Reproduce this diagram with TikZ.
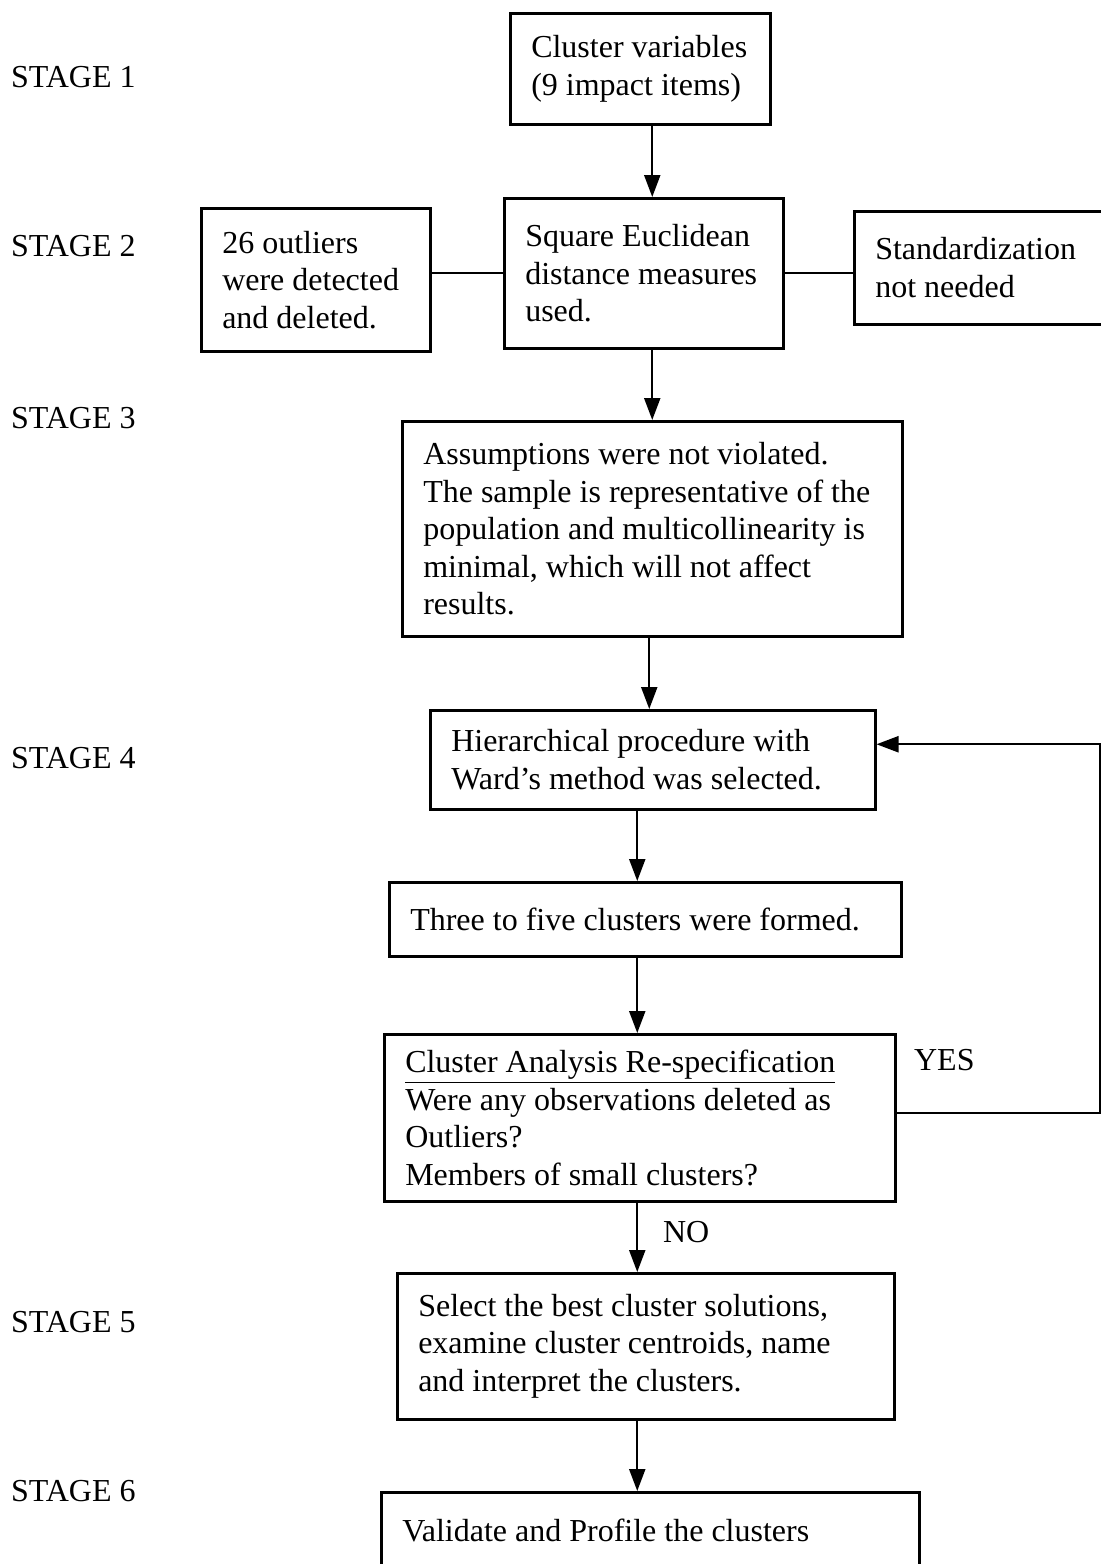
\documentclass[tikz,border=0pt]{standalone}
\usepackage{fontspec}
\setmainfont{Liberation Serif}
\usetikzlibrary{arrows.meta}
\hyphenpenalty=10000

\begin{document}
\begin{tikzpicture}[x=0.5pt,y=-0.5pt,>={Triangle[width=8pt,length=11pt]},line width=1.1pt,
	every node/.style={font=\fontsize{16}{18.75}\selectfont},
	stage/.style={anchor=west,inner sep=0pt},
	box/.style 2 args={draw,line width=1.25pt,anchor=north west,align=flush left,
		inner xsep=10.5pt,inner ysep=0pt,text width=#1,minimum height=#2}]

\useasboundingbox (0,0) rectangle (1101,1564);

% stages
\node[stage]   (s1) at (10,77)   {STAGE 1};
\node[stage]   (s2) at (10,246)  {STAGE 2};
\node[stage]   (s3) at (10,418)  {STAGE 3};
\node[stage]   (s4) at (10,758)  {STAGE 4};
\node[stage]   (s5) at (10,1322) {STAGE 5};
\node[stage]   (s6) at (10,1491) {STAGE 6};

% boxes
\node[box={109pt}{55.5pt}]    (cv)       at (509,12)   {Cluster variables\\(9 impact items)};
\node[box={93.5pt}{71.5pt}]   (outliers) at (200,207)  {26 outliers\\were detected\\and deleted.};
\node[box={118.5pt}{75pt}]    (euclid)   at (503,197)  {Square Euclidean\\distance measures\\used.};
\node[box={110pt}{56.5pt}]    (standard) at (853,210)  {Standardization\\not needed};
\node[box={229pt}{107.5pt}]   (assump)   at (401,420)  {Assumptions were not violated.\\The sample is representative of the\\population and multicollinearity is\\minimal, which will not affect\\results.};
\node[box={201.5pt}{49.5pt}]  (hier)     at (429,709)  {Hierarchical procedure with\\Ward's method was selected.};
\node[box={235pt}{37pt}]      (three)    at (388,881)  {Three to five clusters were formed.};
\node[box={234.5pt}{83.5pt}]  (respec)   at (383,1033) {\underline{Cluster Analysis Re-specification}\\Were any observations deleted as\\Outliers?\\Members of small clusters?};
\node[box={227.5pt}{73pt}]    (select)   at (396,1272) {Select the best cluster solutions,\\examine cluster centroids, name\\and interpret the clusters.};
\node[box={248pt}{38pt}]      (validate) at (380,1491) {Validate and Profile the clusters};

\node[stage]   (yes) at (913,1060) {YES};
\node[stage]   (no)  at (662,1232) {NO};

\coordinate (back) at (1100,1113);

\path[->] ([xshift=6pt]cv.south)        edge ([xshift=6pt]cv.south |- euclid.north)
          ([xshift=4.25pt]euclid.south) edge ([xshift=4.25pt]euclid.south |- assump.north)
          ([xshift=-1.5pt]assump.south) edge ([xshift=-1.5pt]assump.south |- hier.north)
          ([xshift=-7.75pt]hier.south)  edge ([xshift=-7.75pt]hier.south |- three.north)
          ([xshift=-4pt]three.south)    edge ([xshift=-4pt]three.south |- respec.north)
          ([xshift=-1.25pt]respec.south) edge ([xshift=-1.25pt]respec.south |- select.north)
          ([xshift=-4.25pt]select.south) edge ([xshift=-4.25pt]select.south |- validate.north);

\path (euclid.west -| outliers.east) edge (euclid.west)
      (euclid.east) edge (euclid.east -| standard.west);

% yes loop back to stage 4
\draw[->] (respec.east |- back) -- (back) |- ([yshift=7.75pt]hier.east);

\end{tikzpicture}
\end{document}
